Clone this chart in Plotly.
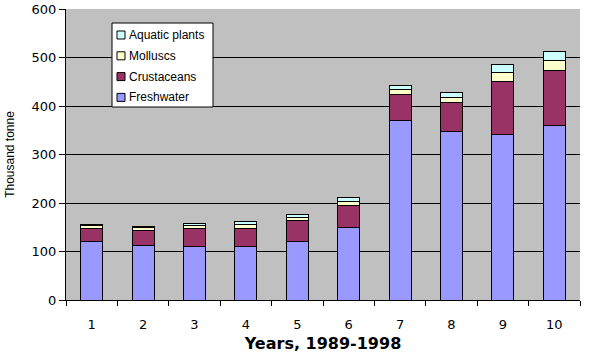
import plotly.graph_objects as go

years = ["1", "2", "3", "4", "5", "6", "7", "8", "9", "10"]
freshwater = [121, 112, 110, 110, 121, 150, 370, 348, 342, 359]
crustaceans = [26, 32, 37, 37, 42, 44, 53, 60, 108, 115]
molluscs = [6, 5, 7, 9, 8, 9, 12, 10, 20, 20]
aquatic_plants = [2, 3, 4, 6, 6, 8, 7, 9, 15, 19]

series = [
    ("Freshwater", freshwater, "#9999FF"),
    ("Crustaceans", crustaceans, "#993366"),
    ("Molluscs", molluscs, "#FFFFCC"),
    ("Aquatic plants", aquatic_plants, "#CCFFFF"),
]

W, H = 596, 356
ML, MR, MT, MB = 66, 16, 9, 56
PW, PH = W - ML - MR, H - MT - MB


def px(x):
    return (x - ML) / PW


def py(y):
    return (H - MB - y) / PH


fig = go.Figure()
for name, vals, col in series:
    fig.add_trace(go.Bar(
        x=years, y=vals, name=name,
        marker=dict(color=col, line=dict(color="black", width=1)),
    ))

# legend box (drawn manually to match the compact original legend)
shapes = [dict(type="rect", xref="paper", yref="paper",
               x0=px(112), x1=px(213), y0=py(107), y1=py(23),
               fillcolor="white", line=dict(color="black", width=1), layer="above")]
annotations = []
legend_items = list(reversed(series))
for i, (name, vals, col) in enumerate(legend_items):
    cy = 35 + i * 20.8
    shapes.append(dict(type="rect", xref="paper", yref="paper",
                       x0=px(117), x1=px(125), y0=py(cy + 4), y1=py(cy - 4),
                       fillcolor=col, line=dict(color="black", width=1), layer="above"))
    annotations.append(dict(xref="paper", yref="paper", x=px(127), y=py(cy),
                            xanchor="left", yanchor="middle", showarrow=False,
                            text=name,
                            font=dict(family="Liberation Sans, Arial", size=12, color="black")))

fig.update_layout(
    barmode="stack",
    bargap=0.57,
    width=W, height=H,
    margin=dict(l=ML, r=MR, t=MT, b=MB),
    paper_bgcolor="white",
    plot_bgcolor="#C0C0C0",
    showlegend=False,
    shapes=shapes,
    annotations=annotations,
    xaxis=dict(
        type="category",
        tickson="boundaries",
        ticks="outside", ticklen=5, tickcolor="black",
        showline=True, linecolor="black", linewidth=1,
        showgrid=False,
        automargin=False,
        tickfont=dict(family="DejaVu Sans, Verdana", size=13, color="black"),
        ticklabelstandoff=12,
        title=dict(text="<b>Years, 1989-1998</b>",
                   font=dict(family="DejaVu Sans, Verdana", size=16, color="black"),
                   standoff=7),
    ),
    yaxis=dict(
        range=[0, 600], dtick=100,
        ticks="outside", ticklen=6, tickcolor="black",
        showline=True, linecolor="black", linewidth=1,
        showgrid=True, gridcolor="black", gridwidth=1,
        zeroline=False,
        automargin=False,
        tickfont=dict(family="DejaVu Sans, Verdana", size=13, color="black"),
        title=dict(text="Thousand tonne",
                   font=dict(family="Liberation Sans, Arial", size=12, color="black"),
                   standoff=14),
    ),
)

fig.write_html("out.html", config={"displayModeBar": False},
               post_script="document.body.style.margin='0';")
